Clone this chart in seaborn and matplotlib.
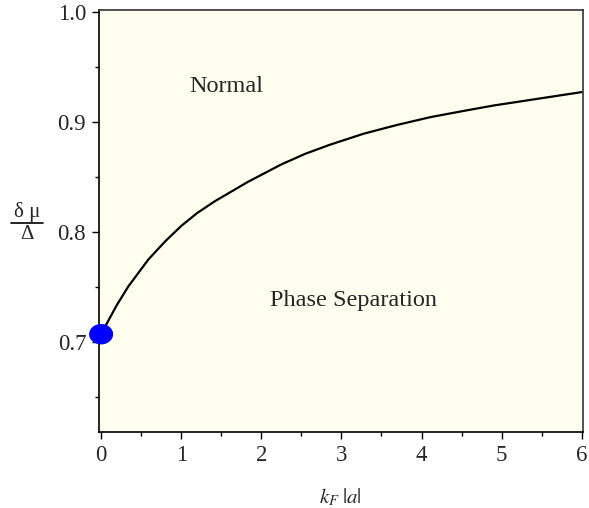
import numpy as np
import pandas as pd
import matplotlib
matplotlib.use("Agg")
import matplotlib.pyplot as plt
import seaborn as sns
from matplotlib.ticker import MultipleLocator
from matplotlib.lines import Line2D
from matplotlib.path import Path

# Data
k_a = [0.0, 0.05, 0.2, 0.34, 0.59, 0.8, 1.0, 1.2, 1.42, 1.83, 2.25, 2.55, 2.86, 3.28, 3.70,
       4.11, 4.49, 4.90, 5.45, 6.0]
dmu = [0.707, 0.714, 0.734, 0.7505, 0.775, 0.7915, 0.8055, 0.8173, 0.828, 0.8455, 0.8615,
       0.8712, 0.8795, 0.8895, 0.8975, 0.9045, 0.9097, 0.9151, 0.9212, 0.9273]
point_x = [0.0]
point_y = [0.707]
xticks = [0, 1, 2, 3, 4, 5, 6]
yticks = [0.7, 0.8, 0.9, 1.0]
region_labels = ["Normal", "Phase Separation"]

sns.set_style("ticks")
plt.rcParams['font.family'] = ['Liberation Serif', 'DejaVu Serif']
plt.rcParams['mathtext.fontset'] = 'stix'

fig = plt.figure(figsize=(5.89, 5.08), dpi=100)
ax = fig.add_axes([0.1676, 0.1496, 0.8214, 0.8307])
ax.set_facecolor('#FFFFF0')

df = pd.DataFrame({"k": k_a, "d": dmu})
sns.lineplot(data=df, x="k", y="d", ax=ax, color='black', linewidth=1.6, sort=True)

# slightly elliptical marker (wider than tall)
t = np.linspace(0, 2 * np.pi, 60)
ell = Path(np.column_stack([np.cos(t), 0.85 * np.sin(t)]))
sns.scatterplot(x=point_x, y=point_y, ax=ax, color='#0000FF', s=300, edgecolor='none',
                marker=ell, zorder=5, clip_on=False)

ax.set_xlim(-0.03, 6.01)
ax.set_ylim(0.618, 1.002)
ax.set_xticks(xticks)
ax.set_xticklabels([str(t) for t in xticks])
ax.set_yticks(yticks)
ax.set_yticklabels([f"{t:.1f}" for t in yticks])
ax.xaxis.set_minor_locator(MultipleLocator(0.5))
ax.yaxis.set_minor_locator(MultipleLocator(0.05))
ax.tick_params(axis='both', which='major', length=5, width=1, labelsize=16.5, color='black', pad=4)
ax.tick_params(axis='both', which='minor', length=3, width=1, color='black')

for s in ['left', 'bottom']:
    ax.spines[s].set_color('black')
    ax.spines[s].set_linewidth(1.2)
for s in ['top', 'right']:
    ax.spines[s].set_visible(True)
    ax.spines[s].set_color('#333333')
    ax.spines[s].set_linewidth(1.2)

ax.set_xlabel("")
ax.set_ylabel("")
fig.text(340/589, 1 - 497/508, r'$k_F\;|a|$', ha='center', va='center', fontsize=15)

# y label as a built-up fraction: δμ over Δ
fig.text(27/589, 1 - 212/508, 'δ μ', ha='center', va='center', fontsize=15)
fig.add_artist(Line2D([11/589, 43/589], [1 - 222.7/508, 1 - 222.7/508], color='black', lw=1.2))
fig.text(27/589, 1 - 234/508, 'Δ', ha='center', va='center', fontsize=15)

ax.text(1.56, 0.932, region_labels[0], ha='center', va='center', fontsize=17.5)
ax.text(3.15, 0.738, region_labels[1], ha='center', va='center', fontsize=17.5)

fig.savefig("out.png", dpi=100)
